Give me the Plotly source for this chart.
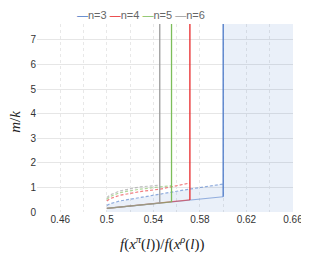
import plotly.graph_objects as go

# ---- data ----
series_names = ["n=3", "n=4", "n=5", "n=6"]
series_colors = ["#4a78c8", "#e8272a", "#7cbd5a", "#9a9a9a"]
thresholds = [0.6, 0.5714, 0.5556, 0.5455]          # x where vertical line sits

# lower (solid) bound, common to all n
solid_x = [0.5, 0.5455, 0.5556, 0.5714, 0.6]
solid_y = [0.15, 0.36, 0.41, 0.49, 0.62]

# upper (dashed) curves
dash_x = {
    "n=3": [0.5, 0.503, 0.5113, 0.5285, 0.5457, 0.572, 0.6],
    "n=4": [0.5, 0.503, 0.5113, 0.5285, 0.5457, 0.5714],
    "n=5": [0.5, 0.503, 0.5113, 0.5285, 0.5457, 0.5556],
    "n=6": [0.5, 0.503, 0.5113, 0.5285, 0.5455],
}
dash_y = {
    "n=3": [0.27, 0.34, 0.45, 0.59, 0.70, 0.94, 1.14],
    "n=4": [0.45, 0.55, 0.68, 0.83, 0.93, 1.18],
    "n=5": [0.52, 0.63, 0.79, 0.93, 1.02, 1.07],
    "n=6": [0.59, 0.70, 0.86, 1.02, 1.09],
}

x_grid = [0.44, 0.46, 0.48, 0.5, 0.52, 0.54, 0.56, 0.58, 0.6, 0.62, 0.64, 0.66]
x_labels = ["", "0.46", "", "0.5", "", "0.54", "", "0.58", "", "0.62", "", "0.66"]
x_range = [0.44, 0.66]
y_range = [0, 7.65]

def rgba(hexc, a):
    h = hexc.lstrip("#")
    r, g, b = int(h[0:2], 16), int(h[2:4], 16), int(h[4:6], 16)
    return f"rgba({r},{g},{b},{a})"

fig = go.Figure()

# shaded feasible region (n=3): under blue dashed curve and everything right of its threshold
bx = dash_x["n=3"] + [thresholds[0], x_range[1], x_range[1], dash_x["n=3"][0]]
by = dash_y["n=3"] + [y_range[1], y_range[1], 0, 0]
fig.add_trace(go.Scatter(x=bx, y=by, mode="lines", line=dict(width=0),
                         fill="toself", fillcolor="rgba(68,114,196,0.11)",
                         hoverinfo="skip", showlegend=False))

for name, col, t in zip(series_names, series_colors, thresholds):
    # dashed upper curve
    fig.add_trace(go.Scatter(x=dash_x[name], y=dash_y[name], mode="lines",
                             line=dict(color=rgba(col, 0.6), width=1.2, dash="3px,2px"),
                             showlegend=False))
    # solid lower bound up to threshold
    sx = [v for v in solid_x if v <= t + 1e-9]
    sy = solid_y[:len(sx)]
    fig.add_trace(go.Scatter(x=sx, y=sy, mode="lines",
                             line=dict(color=rgba(col, 0.55), width=1.2),
                             showlegend=False))
    # vertical line at threshold
    fig.add_trace(go.Scatter(x=[t, t], y=[sy[-1], y_range[1]], mode="lines",
                             line=dict(color=col, width=1.3),
                             name=name, showlegend=False))

legend_html = "&nbsp;".join(
    f'<span style="color:{c}">—</span>{n}' for n, c in zip(series_names, series_colors))

title_font = dict(family="Liberation Serif, Times New Roman, serif", size=15, color="#222")

fig.update_layout(
    width=301, height=247,
    margin=dict(l=29, r=16, t=16, b=43),
    paper_bgcolor="white", plot_bgcolor="white",
    font=dict(family="Liberation Sans, Arial, sans-serif", size=10, color="#333"),
    xaxis=dict(range=x_range, tickvals=x_grid, ticktext=x_labels, automargin=False,
               showgrid=True, gridcolor="#e8e8e8", griddash="dot", gridwidth=1,
               zeroline=False, showline=False, ticks="",
               tickfont=dict(size=10, color="#333")),
    yaxis=dict(range=y_range, dtick=1, showgrid=True, gridcolor="#e6e6e6",
               automargin=False, zeroline=False, showline=False, ticks="",
               tickfont=dict(size=10, color="#333")),
    annotations=[
        dict(text=legend_html, xref="paper", yref="paper",
             x=0.406, y=1.048, xanchor="center", yanchor="middle",
             showarrow=False, font=dict(size=11, color="#666")),
        dict(text="<i>f</i>(<i>x</i><sup><i>π</i></sup>(<i>l</i>))/<i>f</i>(<i>x</i><sup><i>ρ</i></sup>(<i>l</i>))",
             xref="paper", yref="paper", x=0.49, y=-0.165, xanchor="center", yanchor="middle",
             showarrow=False, font=title_font),
        dict(text="<i>m</i>/<i>k</i>", xref="paper", yref="paper",
             x=-0.086, y=0.48, xanchor="center", yanchor="middle", textangle=-90,
             showarrow=False, font=title_font),
    ],
)

fig.write_html("out.html")
